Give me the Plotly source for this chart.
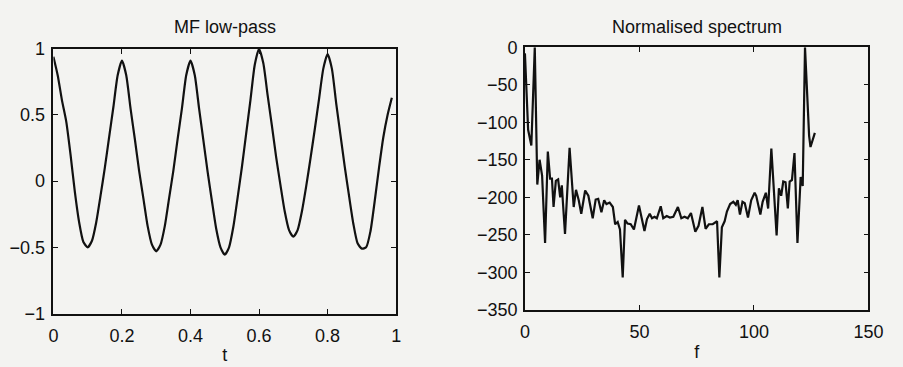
import numpy as np
import plotly.graph_objects as go

# ---- Left panel: MF low-pass signal (sampled every 0.0125 s) ----
t_step = 0.0125
mf_values = [
    0.94, 0.80, 0.61, 0.45, 0.20, -0.08, -0.31, -0.46,      # 0.0  - 0.0875
    -0.50, -0.45, -0.31, -0.11, 0.10, 0.33, 0.56, 0.80,     # 0.1  - 0.1875
    0.91, 0.80, 0.55, 0.32, 0.08, -0.13, -0.34, -0.48,      # 0.2  - 0.2875
    -0.53, -0.48, -0.34, -0.13, 0.08, 0.32, 0.55, 0.80,     # 0.3  - 0.3875
    0.91, 0.80, 0.55, 0.31, 0.07, -0.15, -0.36, -0.50,      # 0.4  - 0.4875
    -0.555, -0.50, -0.345, -0.124, 0.107, 0.361, 0.614, 0.879,  # 0.5 - 0.5875
    1.00, 0.89, 0.65, 0.42, 0.18, -0.03, -0.23, -0.37,      # 0.6  - 0.6875
    -0.42, -0.37, -0.23, -0.04, 0.17, 0.39, 0.62, 0.85,     # 0.7  - 0.7875
    0.96, 0.85, 0.59, 0.35, 0.11, -0.11, -0.32, -0.47,      # 0.8  - 0.8875
    -0.51, -0.50, -0.38, -0.15, 0.10, 0.33, 0.50, 0.63,     # 0.9  - 0.9875
]
mf_t = [i * t_step for i in range(len(mf_values))]

# ---- Right panel: normalised spectrum (dB) ----
spec_f = [
    0, 1.4, 2.8, 4.3, 5.4, 6.4, 7.5, 8.8, 10.0, 11.0, 11.8, 12.5, 13.5, 14.5, 15.4,
    16.1, 17.5, 19.5, 21.3, 22.3, 23.5, 24.6, 26.3, 27.7, 29.6, 30.9, 32.0, 33.4,
    34.6, 35.6, 37.0, 38.4, 39.4, 40.5, 41.5, 42.7, 43.7, 44.8, 46.2, 47.6, 49.8,
    51.2, 52.2, 53.3, 54.5, 55.5, 56.6, 57.6, 59.3, 60.4, 61.9, 63.3, 64.8, 66.8,
    68.3, 69.7, 71.1, 72.5, 74.4, 75.8, 77.5, 78.9, 80.3, 82.0, 83.9, 84.9, 86.0,
    87.2, 88.2, 89.6, 91.0, 92.1, 92.9, 93.9, 95.0, 96.0, 97.4, 98.8, 100.3, 101.0,
    102.8, 103.8, 105.2, 106.2, 107.6, 109.9, 110.9, 111.9, 112.8, 113.8, 114.8,
    115.6, 116.6, 117.7, 119.0, 120.4, 121.3, 122.3, 124.1, 124.7, 126.6,
]
spec_db = [
    -8, -110, -131, 0, -183, -150, -171, -261, -139, -175, -175, -213, -178, -176, -200,
    -184, -249, -134, -213, -190, -204, -222, -191, -198, -228, -203, -202, -220,
    -204, -209, -207, -213, -236, -233, -243, -307, -230, -235, -236, -243, -211,
    -232, -245, -229, -222, -228, -226, -228, -212, -228, -225, -227, -226, -213,
    -228, -226, -228, -221, -246, -238, -213, -242, -236, -236, -232, -307, -240,
    -232, -219, -209, -206, -210, -204, -223, -206, -208, -227, -204, -194, -198,
    -223, -206, -194, -215, -135, -251, -188, -198, -179, -180, -215,
    -179, -177, -141, -261, -173, -185, 0, -118, -133, -114,
]

left_xticks = [0, 0.2, 0.4, 0.6, 0.8, 1]
left_yticks = [-1, -0.5, 0, 0.5, 1]
right_xticks = [0, 50, 100, 150]
right_yticks = [0, -50, -100, -150, -200, -250, -300, -350]

W, H = 903, 367
bg = "#f3f3f1"
ink = "#111111"
font_family = "Liberation Sans, Arial, Helvetica, sans-serif"
fs = 18

fig = go.Figure()
fig.add_trace(go.Scatter(x=mf_t, y=mf_values, mode="lines", line=dict(color=ink, width=2.2, shape="spline", smoothing=0.6),
                         xaxis="x", yaxis="y", showlegend=False))
fig.add_trace(go.Scatter(x=spec_f, y=spec_db, mode="lines", line=dict(color=ink, width=2.2),
                         xaxis="x2", yaxis="y2", showlegend=False))

axis_common = dict(showline=True, linecolor=ink, linewidth=1.5, mirror="ticks", ticks="inside",
                   ticklen=5, tickwidth=1.2, tickcolor=ink, showgrid=False, zeroline=False,
                   tickfont=dict(family=font_family, size=fs, color=ink))

def px_x(p):
    return p / W

def px_y(p):
    return 1 - p / H

title_font = dict(family=font_family, size=fs, color=ink)

fig.update_layout(
    width=W, height=H, margin=dict(l=0, r=0, t=0, b=0),
    paper_bgcolor=bg, plot_bgcolor=bg,
    xaxis=dict(domain=[px_x(49.5), px_x(400)], range=[0, 1], tickvals=left_xticks,
               ticktext=["0", "0.2", "0.4", "0.6", "0.8", "1"], anchor="y", ticklabelstandoff=5,
               title=dict(text="t", font=title_font, standoff=4), **axis_common),
    yaxis=dict(domain=[px_y(321), px_y(41)], range=[-1, 1], tickvals=left_yticks, anchor="x",
               ticklabelstandoff=3, **axis_common),
    xaxis2=dict(domain=[px_x(531.7), px_x(883)], range=[0, 150], tickvals=right_xticks, anchor="y2",
                ticklabelstandoff=5, title=dict(text="f", font=title_font, standoff=4), **axis_common),
    yaxis2=dict(domain=[px_y(317), px_y(39.5)], range=[-350, 0], tickvals=right_yticks, anchor="x2",
                ticklabelstandoff=2, **axis_common),
    annotations=[
        dict(text="MF low-pass", x=(49.5 + 400) / 2 / W, y=px_y(18), xref="paper", yref="paper",
             showarrow=False, font=title_font, xanchor="center", yanchor="middle"),
        dict(text="Normalised spectrum", x=(531.7 + 883) / 2 / W, y=px_y(18), xref="paper", yref="paper",
             showarrow=False, font=title_font, xanchor="center", yanchor="middle"),
    ],
)

fig.write_html("out.html")
